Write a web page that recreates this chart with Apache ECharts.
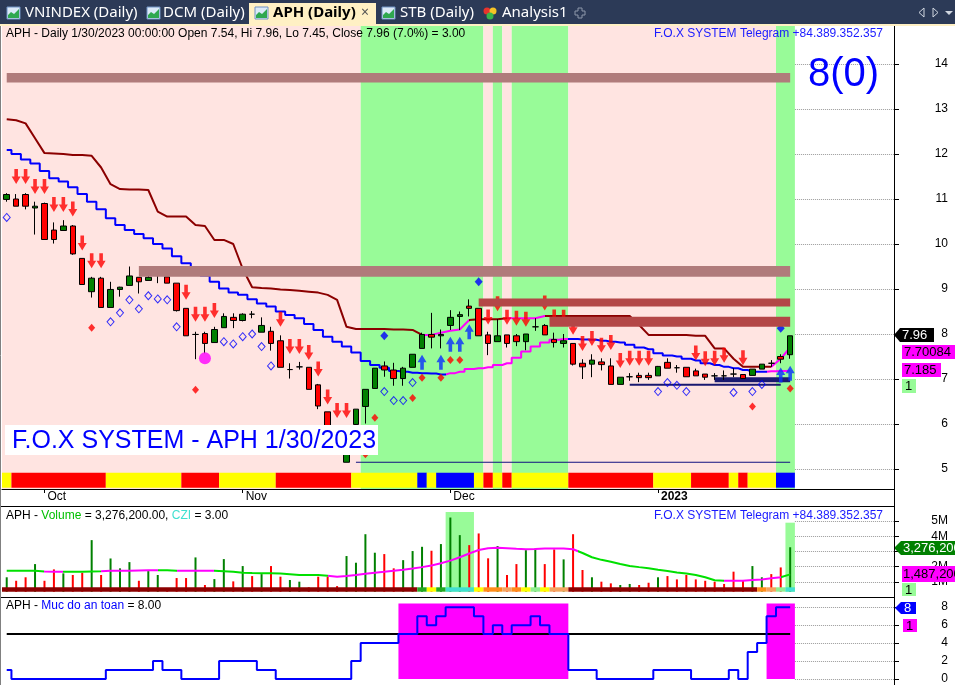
<!DOCTYPE html>
<html>
<head>
<meta charset="utf-8">
<title>APH (Daily)</title>
<script src="https://cdn.jsdelivr.net/npm/echarts@6.0.0/dist/echarts.min.js"></script>
<style>
html,body{margin:0;padding:0;background:#fff;}
#chart{width:955px;height:685px;}
</style>
</head>
<body>
<div id="chart"></div>
<script>
// ------------------------------------------------------------------ data
const monthTickIdx = [4, 25, 47, 69];
const monthLabels = ['Oct', 'Nov', 'Dec', '2023'];
const priceTicks = [5, 6, 7, 8, 9, 10, 11, 12, 13, 14];

const candleOpen = [10.99,11.00,11.10,10.80,10.90,10.31,10.30,10.40,9.68,8.94, 9.24,8.59,8.99,9.08,9.26,9.19,9.31,9.27,9.13,8.57, 7.99,8.01,7.81,8.14,8.37,8.30,8.44,8.04,8.06,7.85, 7.21,7.27,7.26,6.87,6.27,5.90,5.15,5.99,6.39,6.79, 7.29,7.20,7.01,7.26,7.68,7.99,7.96,8.19,8.39,8.62, 8.57,7.98,7.83,7.98,7.96,7.83,8.16,8.19,7.88,7.79, 7.79,7.35,7.33,7.38,7.29,6.88,7.05,7.08,7.08,7.07, 7.37,7.25,7.26,7.18,7.11,7.07,7.07,7.11,7.10,7.08, 7.22,7.35,7.50,7.54];
const candleClose = [11.10,10.84,10.84,10.84,10.10,10.10,10.40,9.78,9.10,9.24, 8.59,8.99,9.04,9.29,9.16,9.26,9.31,9.13,8.52,7.96, 7.99,7.79,8.10,8.39,8.30,8.44,8.44,8.19,7.79,7.26, 7.21,7.27,6.77,6.40,5.90,5.45,5.36,6.33,6.77,7.24, 7.20,7.01,7.24,7.55,7.99,7.93,7.99,8.37,8.43,8.57, 7.96,7.79,7.96,7.79,7.83,8.00,8.16,7.98,7.81,7.85, 7.33,7.27,7.42,7.32,6.88,7.04,7.05,7.03,7.03,7.28, 7.24,7.25,7.05,7.07,7.04,7.07,7.07,7.11,7.01,7.22, 7.33,7.35,7.44,7.96];
const candleLow = [10.94,10.84,10.77,10.21,10.10,10.01,10.30,9.76,9.10,8.81, 8.59,8.59,8.83,9.08,8.90,9.19,9.13,9.13,8.50,7.96, 7.44,7.57,7.81,8.14,8.13,8.28,8.35,8.04,7.63,7.26, 7.01,7.21,6.77,6.33,5.85,5.40,5.15,5.90,6.01,6.79, 7.05,6.85,6.85,7.26,7.68,7.68,7.68,8.09,8.09,8.39, 7.96,7.53,7.83,7.70,7.73,7.64,8.07,7.98,7.70,7.70, 7.30,7.00,7.04,7.19,6.88,6.88,6.96,6.93,6.98,7.07, 7.24,7.14,7.05,7.07,6.98,6.98,6.98,7.04,7.01,7.08, 7.22,7.27,7.35,7.45];
const candleHigh = [11.13,11.11,11.13,10.94,10.92,10.48,10.53,10.42,9.68,9.27, 9.27,9.16,9.05,9.50,9.26,9.39,9.32,9.27,9.13,8.57, 8.05,8.05,8.16,8.46,8.46,8.46,8.51,8.37,8.16,7.97, 7.35,7.38,7.26,6.89,6.27,5.95,5.40,6.33,6.77,7.24, 7.39,7.36,7.27,7.55,8.03,8.47,8.10,8.53,8.50,8.77, 8.57,8.05,8.33,7.98,8.00,8.00,8.35,8.22,8.03,8.00, 7.79,7.44,7.55,7.46,7.46,7.04,7.13,7.14,7.14,7.29, 7.46,7.31,7.26,7.23,7.11,7.13,7.19,7.24,7.10,7.22, 7.33,7.42,7.55,7.96];

const upperLine = [12.77,12.75,12.68,12.35,12.02,12.01,12.00,11.98,11.98,11.96, 11.70,11.33,11.22,11.21,11.21,11.20,10.72,10.61,10.61,10.61, 10.42,10.40,10.09,10.09,10.00,9.45,9.04,9.02,9.01,8.99, 8.98,8.96,8.94,8.92,8.87,8.76,8.16,8.11,8.11,8.11, 8.11,8.10,8.10,8.09,7.98,7.98,8.03,8.07,8.10,8.31, 8.33,8.33,8.33,8.35,8.35,8.35,8.35,8.40,8.40,8.40, 8.40,8.40,8.40,8.40,8.40,8.40,8.40,8.20,7.98,7.98, 7.98,7.98,7.98,7.96,7.96,7.68,7.68,7.45,7.27,7.27, 7.27,7.27,7.45,7.70];
const upperMagenta = [[44, 49], [53, 57], [81, 84]];
const lowerLine = [12.09,12.00,11.88,11.79,11.62,11.46,11.39,11.26,11.11,10.94, 10.77,10.57,10.42,10.31,10.22,10.13,10.00,9.90,9.73,9.57, 9.45,9.30,9.16,9.01,8.92,8.87,8.77,8.68,8.61,8.50, 8.42,8.35,8.22,8.09,7.94,7.83,7.72,7.59,7.40,7.31, 7.25,7.18,7.16,7.14,7.13,7.12,7.10,7.13,7.16,7.22, 7.24,7.26,7.31,7.35,7.47,7.61,7.72,7.81,7.87,7.89, 7.89,7.88,7.87,7.85,7.83,7.81,7.76,7.70,7.66,7.57, 7.52,7.50,7.45,7.41,7.35,7.31,7.27,7.24,7.20,7.16, 7.16,7.17,7.18,7.185];
const lowerMagenta = [[46.5, 59.5], [80.5, 84]];

// background state per bar: P = sell (pink), G = buy (green)
const bgState = 'PPPPPPPPPPPPPPPPPPPPPPPPPPPPPPPPPPPPPPGGGGGGGGGGGGGPGPGGGGGGPPPPPPPPPPPPPPPPPPPPPPGG'.split('');
// bottom colour strip of price pane
const stripMain = 'Y RRRRRRRRRR YYYYYYYY RRRR YYYYYY RRRRRRRR YYYYYYY B Y BBBB Y R Y R YYYYYY RRRRRRRRR YYYY RRRR Y R YYY BB'.replace(/ /g, '').split('');

const bandLight = [[0, 83, 13.59, 13.80], [14, 83, 9.27, 9.51]];
const bandDark = [[50, 83, 8.61, 8.79], [57.5, 83, 8.16, 8.385]];
const supportLow = [[37, 5.15], [83, 5.15]];
const supportMid = [[66, 6.87], [82, 6.87]];
const supportBox = [[75, 6.985], [83, 6.985]];

const sellArrows = [[1,11.50],[2,11.50],[3,11.28],[4,11.28],[5,10.88],[6,10.88],[7,10.78],[8,10.02],[9,9.63],[10,9.63],[19,8.93],[20,8.44],[21,8.44],[22,8.52],[29,8.33],[30,7.72],[31,7.72],[32,7.59],[33,7.22],[34,6.60],[35,6.30],[36,6.30],[51,8.38],[52,8.67],[53,8.37],[54,8.35],[55,8.33],[57,8.69],[58,8.38],[59,8.37],[60,8.15],[61,7.79],[62,7.90],[63,7.75],[64,7.81],[65,7.41],[66,7.46],[67,7.46],[68,7.46],[73,7.58],[74,7.45],[75,7.46],[76,7.53],[78,7.47]];
const buyArrows = [[44,7.37],[46,7.37],[47,7.77],[48,7.77],[49,8.05],[82,7.09],[83,7.13]];
const hollowDiamonds = [[0,10.59],[11,8.27],[12,8.47],[13,8.76],[14,8.56],[15,8.85],[16,8.78],[17,8.76],[18,8.16],[23,7.83],[24,7.78],[25,7.94],[26,8.00],[27,7.72],[28,7.29],[40,6.72],[41,6.52],[42,6.52],[43,6.92],[69,6.72],[70,6.92],[71,6.86],[72,6.72],[77,6.70],[79,6.72],[80,6.88]];
const redDiamonds = [[9,8.14],[20,6.76],[38,5.33],[39,6.14],[43,6.58],[44,7.03],[46,7.03],[47,7.42],[48,7.42],[79,6.39],[83,6.79]];
const blueDiamonds = [[40,7.96],[50,9.16],[82,8.13]];
const magentaDots = [[21,7.46]];

// volume pane (millions)
const volumes = [1.30,1.07,1.30,2.17,1.07,1.82,1.56,1.45,1.60,3.75, 1.45,2.54,1.89,2.30,1.07,1.71,1.45,0.57,1.25,1.25, 2.61,0.79,1.18,2.50,1.03,2.04,1.38,1.51,2.04,1.34, 1.12,1.01,0.64,1.34,1.34,0.72,2.70,2.26,4.14,2.92, 2.83,1.89,2.43,3.03,3.31,3.05,3.49,5.24,4.08,3.42, 4.19,2.55,3.36,1.45,2.17,3.09,3.20,2.17,3.14,2.48, 4.14,1.78,1.30,1.01,0.90,0.79,0.86,0.79,0.94,1.30, 1.38,1.16,1.45,1.16,1.07,1.01,0.86,1.67,1.12,2.04, 1.30,1.51,1.95,3.28];
const volDir = 'GRRGRRGRRG RGGGRGGRRR GRGGRGRGRR GGRRRRGGGG RRGGGRGGGR RRGRRGGRRG RRGRRGGRRG RRRRRRRRRG GRRG'.replace(/ /g, '').split('');
const volMA = [1.73,1.73,1.73,1.73,1.68,1.66,1.66,1.66,1.66,1.68, 1.70,1.73,1.73,1.73,1.75,1.77,1.77,1.76,1.73,1.73, 1.73,1.73,1.73,1.70,1.67,1.60,1.58,1.57,1.56,1.55, 1.50,1.45,1.45,1.45,1.40,1.34,1.38,1.45,1.53,1.60, 1.66,1.73,1.80,1.88,1.97,2.08,2.22,2.40,2.62,2.87, 3.10,3.22,3.25,3.22,3.18,3.15,3.17,3.20,3.20,3.20, 3.15,2.90,2.62,2.45,2.32,2.18,2.05,1.97,1.90,1.80, 1.72,1.62,1.55,1.45,1.30,1.10,1.07,1.07,1.07,1.12, 1.16,1.23,1.30,1.49];
const volMAMagenta = [[4, 6], [10, 16], [18, 22], [34, 60.5], [76, 82]];
const volTicks = [1, 2, 3, 4, 5];
const cziStrip = 'DDDDDDDDDDDDDDDDDDDDDDDDDDDDDDDDDDDDDDDDDDDD GYG CCC YOOLOYPY LL DDDDDDDDDDDDDDDDDDDD OLPC'.replace(/ /g, '').split('');
const volHighlight = [[46.5, 49.5, 5.6], [82.5, 83.5, 4.9]];

// safety level pane
const safety = [1, 0,0,0,0,0,0,0,0,0,0, 1,1,1,1,1, 2, 1,1, 0,0,0,0, 2,2,2,2, 1,1, 0,0,0,0,0,0,0,0, 2, 4,4,4,4, 5,5, 7, 6, 7, 8,8,8, 7, 5, 6, 5, 6,6, 7, 6, 5,5, 1,1,1, 0,0,0,0,0,0, 1,1,1,1, 0,0,0,0, 1, 0, 3, 4, 7, 8,8];
const safetyThreshold = 5;
const safetyTicks = [0, 2, 4, 6, 8];

// ------------------------------------------------------------------ helpers
const FONT = '"Liberation Sans", Arial, sans-serif';
const idx = candleOpen.map((_, i) => i);
const lastBar = idx.length - 1;
function segments(states) {
  const segs = []; let s = 0;
  for (let i = 1; i <= states.length; i++) {
    if (i === states.length || states[i] !== states[s]) { segs.push([s - 0.5, i - 0.5, states[s]]); s = i; }
  }
  return segs;
}
function pieces(ranges, base, alt) {
  const out = []; let cur = -10;
  ranges.forEach(([a, b]) => { out.push({ gte: cur, lt: a, color: base }); out.push({ gte: a, lt: b, color: alt }); cur = b; });
  out.push({ gte: cur, lte: 200, color: base });
  return out;
}
const bgColors = { P: '#ffe4e1', G: '#98fb98' };
const stripColors = { Y: '#ffff00', R: '#ff0000', B: '#0000ff' };
const cziColors = { D: '#8b0000', G: '#22aa22', Y: '#ffff00', C: '#40e0d0', O: '#ff8c1a', L: '#f4a460', P: '#90ee90' };

const candleData = idx.map(i => [i, candleOpen[i], candleClose[i], candleLow[i], candleHigh[i]]);
const pair = arr => arr.map((v, i) => [i, v]);

const arrowDown = 'path://M3,0L7,0L7,7L10,7L5,14L0,7L3,7Z';
const arrowUp = 'path://M5,0L10,7L7,7L7,14L3,14L3,7L0,7Z';

const X_MAX = 94;
const mainMin = 14 - 425 / 45, mainMax = 14 + 38 / 45;

function dummy(gi, extra) {
  return Object.assign({ type: 'line', xAxisIndex: gi, yAxisIndex: gi, data: [], silent: true, symbol: 'none' }, extra);
}
function gridLines(gi, ticks) {
  return dummy(gi, { markLine: { silent: true, z: 0, symbol: 'none', label: { show: false },
    lineStyle: { color: '#9a9a9a', type: 'dotted', width: 1 },
    data: ticks.map(v => [{ xAxis: lastBar + 0.5, yAxis: v }, { xAxis: X_MAX, yAxis: v }]) } });
}

const series = [];
// background
series.push(dummy(0, { markArea: { silent: true, z: 1, label: { show: false },
  data: segments(bgState).map(([a, b, s]) => [{ xAxis: a, itemStyle: { color: bgColors[s] } }, { xAxis: b }]) } }));
series.push(gridLines(0, priceTicks));
// support lines
series.push({ type: 'line', xAxisIndex: 0, yAxisIndex: 0, data: supportLow, symbol: 'none', silent: true, lineStyle: { color: '#101080', width: 1 }, z: 2 });
series.push({ type: 'line', xAxisIndex: 0, yAxisIndex: 0, data: supportMid, symbol: 'none', silent: true, lineStyle: { color: '#191970', width: 2 }, z: 2 });
series.push({ type: 'line', xAxisIndex: 0, yAxisIndex: 0, data: supportBox, symbol: 'none', silent: true, lineStyle: { color: '#191970', width: 5, cap: 'butt' }, z: 2 });
// upper line
const upperIdx = series.length;
series.push({ type: 'line', xAxisIndex: 0, yAxisIndex: 0, data: pair(upperLine), symbol: 'none', silent: true, lineStyle: { width: 2 }, z: 2 });
// lower line
const lowerIdx = series.length;
series.push({ type: 'line', xAxisIndex: 0, yAxisIndex: 0, data: pair(lowerLine), step: 'middle', symbol: 'none', silent: true, lineStyle: { width: 2 }, z: 2 });
// candles
series.push({ type: 'candlestick', xAxisIndex: 0, yAxisIndex: 0, data: candleData, barWidth: 6, silent: true, z: 3,
  itemStyle: { color: '#008000', color0: '#ff0000', borderColor: '#000', borderColor0: '#000', borderColorDoji: '#000', borderWidth: 1 } });
// markers
series.push({ type: 'scatter', xAxisIndex: 0, yAxisIndex: 0, data: hollowDiamonds, symbol: 'diamond', symbolSize: [7, 8], silent: true, z: 3,
  itemStyle: { color: 'rgba(0,0,0,0)', borderColor: '#0000ff', borderWidth: 1 } });
series.push({ type: 'scatter', xAxisIndex: 0, yAxisIndex: 0, data: redDiamonds, symbol: 'diamond', symbolSize: [7, 8], silent: true, z: 3, itemStyle: { color: '#ff0000' } });
series.push({ type: 'scatter', xAxisIndex: 0, yAxisIndex: 0, data: blueDiamonds, symbol: 'diamond', symbolSize: [8, 9], silent: true, z: 3, itemStyle: { color: '#0000ff' } });
series.push({ type: 'scatter', xAxisIndex: 0, yAxisIndex: 0, data: magentaDots, symbol: 'circle', symbolSize: 12, silent: true, z: 3, itemStyle: { color: '#ff00ff' } });
series.push({ type: 'scatter', xAxisIndex: 0, yAxisIndex: 0, data: sellArrows, symbol: arrowDown, symbolSize: [9, 15], silent: true, z: 3, itemStyle: { color: '#ff0000' } });
series.push({ type: 'scatter', xAxisIndex: 0, yAxisIndex: 0, data: buyArrows, symbol: arrowUp, symbolSize: [9, 15], silent: true, z: 3, itemStyle: { color: '#0a2eff' } });
// bands
series.push(dummy(0, { markArea: { silent: true, z: 4, label: { show: false },
  data: bandLight.map(([a, b, lo, hi]) => [{ xAxis: a, yAxis: lo, itemStyle: { color: '#b07b7b' } }, { xAxis: b, yAxis: hi }])
    .concat(bandDark.map(([a, b, lo, hi]) => [{ xAxis: a, yAxis: lo, itemStyle: { color: '#b34747' } }, { xAxis: b, yAxis: hi }])) } }));
// strip
series.push(dummy(0, { markArea: { silent: true, z: 4, label: { show: false },
  data: segments(stripMain).map(([a, b, s]) => [{ xAxis: a, yAxis: 4.585, itemStyle: { color: stripColors[s] } }, { xAxis: b, yAxis: 4.918 }]) } }));

// volume pane
series.push(gridLines(1, volTicks));
series.push(dummy(1, { markArea: { silent: true, z: 1, label: { show: false },
  data: volHighlight.map(([a, b, top]) => [{ xAxis: a, yAxis: 0, itemStyle: { color: '#98fb98' } }, { xAxis: b, yAxis: top }]) } }));
series.push({ type: 'bar', xAxisIndex: 1, yAxisIndex: 1, barWidth: 2, silent: true, z: 2,
  data: volumes.map((v, i) => ({ value: [i, v], itemStyle: { color: volDir[i] === 'G' ? '#008000' : '#ff0000' } })) });
const volMAIdx = series.length;
series.push({ type: 'line', xAxisIndex: 1, yAxisIndex: 1, data: pair(volMA), symbol: 'none', silent: true, lineStyle: { width: 2 }, z: 3 });
series.push(dummy(1, { markArea: { silent: true, z: 4, label: { show: false },
  data: [[{ xAxis: -0.5, yAxis: 0, itemStyle: { color: '#ffffff' } }, { xAxis: X_MAX, yAxis: 0.35 }]]
    .concat(segments(cziStrip).map(([a, b, s]) => [{ xAxis: a, yAxis: 0.35, itemStyle: { color: cziColors[s] } }, { xAxis: b, yAxis: 0.64 }])) } }));

// safety pane
series.push(gridLines(2, safetyTicks));
const safeFlags = safety.map(v => v >= safetyThreshold ? 'M' : 'N');
series.push(dummy(2, { markArea: { silent: true, z: 1, label: { show: false },
  data: segments(safeFlags).filter(s => s[2] === 'M').map(([a, b]) => [{ xAxis: a, yAxis: 0, itemStyle: { color: '#ff00ff' } }, { xAxis: b, yAxis: 8.4 }]) } }));
series.push({ type: 'line', xAxisIndex: 2, yAxisIndex: 2, data: [[0, safetyThreshold], [lastBar, safetyThreshold]], symbol: 'none', silent: true, lineStyle: { color: '#000', width: 2 }, z: 2 });
series.push({ type: 'line', xAxisIndex: 2, yAxisIndex: 2, data: pair(safety), step: 'middle', symbol: 'none', silent: true, clip: false, lineStyle: { color: '#0000ff', width: 2 }, z: 3 });

// ------------------------------------------------------------------ axes
const xBase = { type: 'value', min: -0.5, max: X_MAX };
const xAxis = [
  Object.assign({}, xBase, { gridIndex: 0,
    axisLine: { show: true, onZero: false, lineStyle: { color: '#000', width: 1 } },
    axisTick: { show: true, customValues: monthTickIdx, length: 4, lineStyle: { color: '#000' } },
    axisLabel: { customValues: monthTickIdx, align: 'left', margin: 2, padding: [0, 0, 0, 3], color: '#000', fontFamily: FONT, fontSize: 12,
      formatter: v => { const k = monthTickIdx.indexOf(Math.round(v)); if (k < 0) return ''; return k === 3 ? '{b|' + monthLabels[k] + '}' : monthLabels[k]; },
      rich: { b: { fontWeight: 'bold', fontFamily: FONT, fontSize: 12, color: '#000' } } },
    splitLine: { show: false } }),
  Object.assign({}, xBase, { gridIndex: 1, show: false, axisLine: { onZero: false } }),
  Object.assign({}, xBase, { gridIndex: 2, show: false, axisLine: { onZero: false } })
];
const yLabel = { color: '#000', fontFamily: FONT, fontSize: 12, align: 'right', margin: 54 };
const yAxis = [
  { type: 'value', gridIndex: 0, position: 'right', min: mainMin, max: mainMax,
    axisLine: { show: true, onZero: false, lineStyle: { color: '#000' } },
    axisTick: { show: true, customValues: priceTicks, length: 5, lineStyle: { color: '#000' } },
    axisLabel: Object.assign({ customValues: priceTicks }, yLabel),
    splitLine: { show: false } },
  { type: 'value', gridIndex: 1, position: 'right', min: 0, max: 6, interval: 1,
    axisLine: { show: true, onZero: false, lineStyle: { color: '#000' } },
    axisTick: { show: true, length: 5, lineStyle: { color: '#000' } },
    axisLabel: Object.assign({ showMinLabel: false, showMaxLabel: false, formatter: v => volTicks.indexOf(v) >= 0 ? v + 'M' : '' }, yLabel),
    splitLine: { show: false } },
  { type: 'value', gridIndex: 2, position: 'right', min: 0, max: 8.8, interval: 2,
    axisLine: { show: true, onZero: false, lineStyle: { color: '#000' } },
    axisTick: { show: true, length: 5, lineStyle: { color: '#000' } },
    axisLabel: Object.assign({ showMaxLabel: false }, yLabel),
    splitLine: { show: false } }
];

// ------------------------------------------------------------------ graphic (tabs, titles, value tags)
const g = [];
function T(x, y, text, style) {
  g.push({ type: 'text', x: x, y: y, z: 120, silent: true,
    style: Object.assign({ text: text, fill: '#000', fontFamily: FONT, fontSize: 12, align: 'left', verticalAlign: 'middle' }, style || {}) });
}
function R(x, y, w, h, fill, z) { g.push({ type: 'rect', shape: { x: x, y: y, width: w, height: h }, style: { fill: fill }, z: z || 110, silent: true }); }
function L(x1, y1, x2, y2, stroke, w) { g.push({ type: 'line', shape: { x1: x1, y1: y1, x2: x2, y2: y2 }, style: { stroke: stroke, lineWidth: w || 1 }, z: 115, silent: true }); }
function P(points, fill) { g.push({ type: 'polygon', shape: { points: points }, style: { fill: fill }, z: 110, silent: true }); }

// tab bar
R(0, 0, 955, 24, '#2c3a57');
R(0, 24, 955, 2, '#fff0c4');
R(249, 3, 127, 22, '#fff0c4');
function icon(x) {
  g.push({ type: 'rect', shape: { x: x, y: 7, width: 13, height: 12 }, style: { fill: '#dbe9f8', stroke: '#6f92c4', lineWidth: 1 }, z: 111, silent: true });
  g.push({ type: 'polygon', shape: { points: [[x + 1, 18], [x + 1, 15], [x + 4, 12], [x + 7, 14], [x + 12, 9], [x + 12, 18]] }, style: { fill: '#2fa84f' }, z: 112, silent: true });
}
icon(7); icon(147); icon(255); icon(382);
const TAB = '"Noto Sans", "DejaVu Sans", sans-serif';
T(25, 13, 'VNINDEX (Daily)', { fill: '#ffffff', fontFamily: TAB, fontSize: 15 });
T(163, 13, 'DCM (Daily)', { fill: '#ffffff', fontFamily: TAB, fontSize: 15 });
T(273, 13, 'APH (Daily)', { fill: '#000000', fontFamily: TAB, fontSize: 15, fontWeight: 'bold' });
T(361, 13, '×', { fill: '#555555', fontFamily: TAB, fontSize: 14 });
T(400, 13, 'STB (Daily)', { fill: '#ffffff', fontFamily: TAB, fontSize: 15 });
g.push({ type: 'circle', shape: { cx: 487, cy: 11, r: 3.5 }, style: { fill: '#e8342c' }, z: 112, silent: true });
g.push({ type: 'circle', shape: { cx: 493, cy: 11, r: 3.5 }, style: { fill: '#f7c325' }, z: 112, silent: true });
g.push({ type: 'circle', shape: { cx: 490, cy: 16, r: 3.5 }, style: { fill: '#39b54a' }, z: 112, silent: true });
T(502, 13, 'Analysis1', { fill: '#ffffff', fontFamily: TAB, fontSize: 15 });
g.push({ type: 'polygon', shape: { points: [[578, 8], [582, 8], [582, 11], [585, 11], [585, 15], [582, 15], [582, 18], [578, 18], [578, 15], [575, 15], [575, 11], [578, 11]] },
  style: { fill: 'none', stroke: '#8d97aa', lineWidth: 1 }, z: 112, silent: true });
g.push({ type: 'polygon', shape: { points: [[924, 8], [924, 17], [919, 12.5]] }, style: { fill: 'none', stroke: '#d0d6e0', lineWidth: 1 }, z: 112, silent: true });
g.push({ type: 'polygon', shape: { points: [[933, 8], [933, 17], [938, 12.5]] }, style: { fill: 'none', stroke: '#d0d6e0', lineWidth: 1 }, z: 112, silent: true });
P([[945, 11], [953, 11], [949, 15]], '#d0d6e0');

// panel frame lines
L(0, 506.5, 894, 506.5, '#000');
L(0, 597.5, 894, 597.5, '#000');
L(894.5, 26, 894.5, 685, '#000');
L(0.5, 26, 0.5, 685, '#808080');

// titles
T(6, 34, 'APH - Daily 1/30/2023 00:00:00 Open 7.54, Hi 7.96, Lo 7.45, Close 7.96 (7.0%) = 3.00');
T(883, 34, 'F.O.X SYSTEM Telegram +84.389.352.357', { fill: '#1a1aff', align: 'right' });
T(808, 75, '8(0)', { fill: '#0000ff', fontSize: 40 });
R(5, 425, 373, 30, '#ffffff', 118);
T(12, 441, 'F.O.X SYSTEM - APH 1/30/2023', { fill: '#0000ff', fontSize: 25 });
g.push({ type: 'text', x: 6, y: 516, z: 120, silent: true,
  style: { text: '{k|APH - }{v|Volume}{k| = 3,276,200.00, }{c|CZI}{k| = 3.00}', verticalAlign: 'middle', align: 'left',
    rich: { k: { fill: '#000', fontFamily: FONT, fontSize: 12 }, v: { fill: '#00c000', fontFamily: FONT, fontSize: 12 }, c: { fill: '#40e0d0', fontFamily: FONT, fontSize: 12 } } } });
T(883, 516, 'F.O.X SYSTEM Telegram +84.389.352.357', { fill: '#1a1aff', align: 'right' });
g.push({ type: 'text', x: 6, y: 606, z: 120, silent: true,
  style: { text: '{k|APH - }{b|Muc do an toan}{k| = 8.00}', verticalAlign: 'middle', align: 'left',
    rich: { k: { fill: '#000', fontFamily: FONT, fontSize: 12 }, b: { fill: '#0000ff', fontFamily: FONT, fontSize: 12 } } } });

// value tags on the right axis
P([[894, 335], [900, 328], [934, 328], [934, 342], [900, 342]], '#000000');
T(902, 335.5, '7.96', { fill: '#ffffff', fontSize: 13 });
R(902, 345, 53, 14, '#ff00ff'); T(904, 352.5, '7.70084', { fontSize: 13 });
R(902, 363, 39, 14, '#ff00ff'); T(904, 370.5, '7.185', { fontSize: 13 });
R(902, 379, 14, 14, '#98fb98'); T(905, 386.5, '1', { fontSize: 13 });

P([[894, 548], [901, 541], [955, 541], [955, 555], [901, 555]], '#008000');
T(903, 548.5, '3,276,200', { fill: '#ffffff', fontSize: 13 });
R(902, 566, 53, 16, '#ff00ff'); T(903, 574.5, '1,487,200', { fontSize: 13 });
R(902, 583, 14, 13, '#98fb98'); T(905, 590, '1', { fontSize: 13 });

P([[895, 608], [901, 602], [916, 602], [916, 614], [901, 614]], '#0000ff');
T(904, 608.5, '8', { fill: '#ffffff', fontSize: 13 });
R(903, 619, 14, 13, '#ff00ff'); T(906, 626, '1', { fontSize: 13 });

// ------------------------------------------------------------------ chart
const chart = echarts.init(document.getElementById('chart'), null, { renderer: 'canvas' });
chart.setOption({
  animation: false,
  backgroundColor: '#ffffff',
  grid: [
    { left: 2, right: 61, top: 26, height: 463 },
    { left: 2, right: 61, top: 506, height: 91 },
    { left: 2, right: 61, top: 600, height: 79 }
  ],
  xAxis: xAxis,
  yAxis: yAxis,
  visualMap: [
    { show: false, type: 'piecewise', seriesIndex: upperIdx, dimension: 0, pieces: pieces(upperMagenta, '#8b0000', '#ff00ff') },
    { show: false, type: 'piecewise', seriesIndex: lowerIdx, dimension: 0, pieces: pieces(lowerMagenta, '#0000ff', '#ff00ff') },
    { show: false, type: 'piecewise', seriesIndex: volMAIdx, dimension: 0, pieces: pieces(volMAMagenta, '#00e000', '#ff00ff') }
  ],
  series: series,
  graphic: { elements: g }
});
</script>
</body>
</html>
